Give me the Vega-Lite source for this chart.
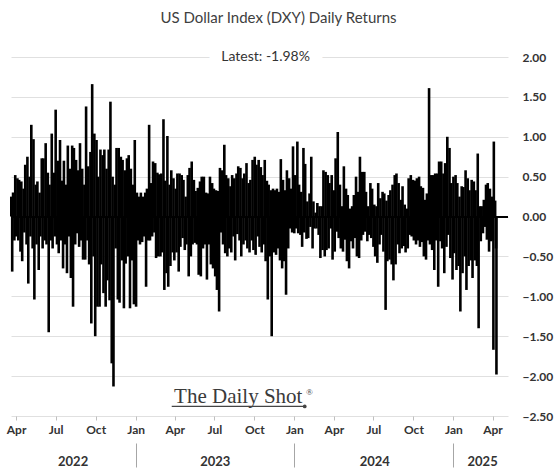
{
"$schema": "https://vega.github.io/schema/vega-lite/v6.json",
"width": 497, "height": 359,
"autosize": {"type": "none"},
"padding": {"left": 11, "top": 57, "right": 52, "bottom": 59},
"background": "white",
"title": {"text": "US Dollar Index (DXY) Daily Returns", "font": "Lato", "fontSize": 15, "fontWeight": "normal", "color": "#404040", "anchor": "middle", "frame": "group", "baseline": "alphabetic", "offset": 12, "dx": 19},
"datasets": {"ret": [
{"d":"2022-03-21","r":0.25},{"d":"2022-03-23","r":-0.69},{"d":"2022-03-25","r":0.30},{"d":"2022-03-28","r":-0.30},{"d":"2022-03-30","r":0.52},{"d":"2022-04-01","r":-0.25},
{"d":"2022-04-04","r":0.48},{"d":"2022-04-06","r":-0.30},{"d":"2022-04-08","r":0.46},{"d":"2022-04-11","r":-0.44},{"d":"2022-04-13","r":0.44},{"d":"2022-04-15","r":-0.56},
{"d":"2022-04-18","r":0.35},{"d":"2022-04-20","r":-0.20},{"d":"2022-04-22","r":0.65},{"d":"2022-04-25","r":-0.35},{"d":"2022-04-27","r":0.75},{"d":"2022-04-29","r":-0.84},
{"d":"2022-05-02","r":0.50},{"d":"2022-05-04","r":-0.25},{"d":"2022-05-06","r":1.15},{"d":"2022-05-09","r":-0.40},{"d":"2022-05-11","r":0.97},{"d":"2022-05-13","r":-1.04},
{"d":"2022-05-16","r":0.40},{"d":"2022-05-18","r":-0.35},{"d":"2022-05-20","r":0.44},{"d":"2022-05-23","r":-0.67},{"d":"2022-05-25","r":0.30},{"d":"2022-05-27","r":-0.25},
{"d":"2022-05-30","r":0.73},{"d":"2022-06-01","r":-0.40},{"d":"2022-06-03","r":0.73},{"d":"2022-06-06","r":-0.30},{"d":"2022-06-08","r":0.92},{"d":"2022-06-10","r":-0.35},
{"d":"2022-06-13","r":0.55},{"d":"2022-06-15","r":-1.45},{"d":"2022-06-17","r":0.40},{"d":"2022-06-20","r":-0.30},{"d":"2022-06-22","r":1.04},{"d":"2022-06-24","r":-0.40},
{"d":"2022-06-27","r":0.55},{"d":"2022-06-29","r":-0.25},{"d":"2022-07-01","r":1.34},{"d":"2022-07-04","r":-0.35},{"d":"2022-07-06","r":0.70},{"d":"2022-07-08","r":-0.46},
{"d":"2022-07-11","r":0.96},{"d":"2022-07-13","r":-0.30},{"d":"2022-07-15","r":0.45},{"d":"2022-07-18","r":-0.65},{"d":"2022-07-20","r":0.70},{"d":"2022-07-22","r":-0.35},
{"d":"2022-07-25","r":0.40},{"d":"2022-07-27","r":-0.71},{"d":"2022-07-29","r":0.89},{"d":"2022-08-01","r":-0.25},{"d":"2022-08-03","r":0.60},{"d":"2022-08-05","r":-0.77},
{"d":"2022-08-08","r":0.89},{"d":"2022-08-10","r":-1.13},{"d":"2022-08-12","r":0.86},{"d":"2022-08-15","r":-0.35},{"d":"2022-08-17","r":0.71},{"d":"2022-08-19","r":-0.21},
{"d":"2022-08-22","r":0.58},{"d":"2022-08-24","r":-0.38},{"d":"2022-08-26","r":0.92},{"d":"2022-08-29","r":-0.30},{"d":"2022-08-31","r":0.60},{"d":"2022-09-02","r":-0.54},
{"d":"2022-09-05","r":0.40},{"d":"2022-09-07","r":-0.54},{"d":"2022-09-09","r":1.38},{"d":"2022-09-12","r":-0.30},{"d":"2022-09-14","r":0.63},{"d":"2022-09-16","r":-0.60},
{"d":"2022-09-19","r":0.81},{"d":"2022-09-21","r":-1.34},{"d":"2022-09-23","r":1.66},{"d":"2022-09-26","r":-0.50},{"d":"2022-09-28","r":1.04},{"d":"2022-09-30","r":-1.50},
{"d":"2022-10-03","r":0.96},{"d":"2022-10-05","r":-1.13},{"d":"2022-10-07","r":0.50},{"d":"2022-10-10","r":-1.13},{"d":"2022-10-12","r":0.84},{"d":"2022-10-14","r":-0.60},
{"d":"2022-10-17","r":0.77},{"d":"2022-10-19","r":-0.96},{"d":"2022-10-21","r":0.84},{"d":"2022-10-24","r":-1.13},{"d":"2022-10-26","r":0.60},{"d":"2022-10-28","r":-0.80},
{"d":"2022-10-31","r":0.84},{"d":"2022-11-02","r":-1.05},{"d":"2022-11-04","r":1.44},{"d":"2022-11-07","r":-1.84},{"d":"2022-11-09","r":0.50},{"d":"2022-11-11","r":-2.13},
{"d":"2022-11-14","r":0.40},{"d":"2022-11-16","r":-0.40},{"d":"2022-11-18","r":0.86},{"d":"2022-11-21","r":-1.04},{"d":"2022-11-23","r":0.86},{"d":"2022-11-25","r":-1.08},
{"d":"2022-11-28","r":0.75},{"d":"2022-11-30","r":-0.55},{"d":"2022-12-02","r":0.71},{"d":"2022-12-05","r":-1.15},{"d":"2022-12-07","r":0.58},{"d":"2022-12-09","r":-0.59},
{"d":"2022-12-12","r":0.73},{"d":"2022-12-14","r":-0.50},{"d":"2022-12-16","r":0.77},{"d":"2022-12-19","r":-1.15},{"d":"2022-12-21","r":0.60},{"d":"2022-12-23","r":-0.55},
{"d":"2022-12-26","r":0.40},{"d":"2022-12-28","r":-1.10},{"d":"2022-12-30","r":0.96},{"d":"2023-01-02","r":-1.13},{"d":"2023-01-04","r":0.30},{"d":"2023-01-06","r":-0.30},
{"d":"2023-01-09","r":0.25},{"d":"2023-01-11","r":-0.35},{"d":"2023-01-13","r":0.30},{"d":"2023-01-16","r":-0.32},{"d":"2023-01-18","r":0.25},{"d":"2023-01-20","r":-0.25},
{"d":"2023-01-23","r":0.30},{"d":"2023-01-25","r":-0.88},{"d":"2023-01-27","r":0.35},{"d":"2023-01-30","r":-0.30},{"d":"2023-02-01","r":1.15},{"d":"2023-02-03","r":-0.30},
{"d":"2023-02-06","r":0.42},{"d":"2023-02-08","r":-0.25},{"d":"2023-02-10","r":0.69},{"d":"2023-02-13","r":-0.20},{"d":"2023-02-15","r":0.67},{"d":"2023-02-17","r":-0.52},
{"d":"2023-02-20","r":0.55},{"d":"2023-02-22","r":-0.50},{"d":"2023-02-24","r":0.53},{"d":"2023-02-27","r":-0.50},{"d":"2023-03-01","r":0.54},{"d":"2023-03-03","r":-0.45},
{"d":"2023-03-06","r":1.22},{"d":"2023-03-08","r":-0.92},{"d":"2023-03-10","r":0.45},{"d":"2023-03-13","r":-0.71},{"d":"2023-03-15","r":1.01},{"d":"2023-03-17","r":-0.88},
{"d":"2023-03-20","r":0.40},{"d":"2023-03-22","r":-0.62},{"d":"2023-03-24","r":0.58},{"d":"2023-03-27","r":-0.45},{"d":"2023-03-29","r":0.48},{"d":"2023-03-31","r":-0.55},
{"d":"2023-04-03","r":0.35},{"d":"2023-04-05","r":-0.45},{"d":"2023-04-07","r":0.54},{"d":"2023-04-10","r":-0.69},{"d":"2023-04-12","r":0.54},{"d":"2023-04-14","r":-0.38},
{"d":"2023-04-17","r":0.52},{"d":"2023-04-19","r":-0.27},{"d":"2023-04-21","r":0.46},{"d":"2023-04-24","r":-0.42},{"d":"2023-04-26","r":0.25},{"d":"2023-04-28","r":-0.35},
{"d":"2023-05-01","r":0.52},{"d":"2023-05-03","r":-0.75},{"d":"2023-05-05","r":0.61},{"d":"2023-05-08","r":-0.50},{"d":"2023-05-10","r":0.69},{"d":"2023-05-12","r":-0.35},
{"d":"2023-05-15","r":0.46},{"d":"2023-05-17","r":-0.33},{"d":"2023-05-19","r":0.32},{"d":"2023-05-22","r":-0.35},{"d":"2023-05-24","r":0.36},{"d":"2023-05-26","r":-0.73},
{"d":"2023-05-29","r":0.44},{"d":"2023-05-31","r":-0.75},{"d":"2023-06-02","r":0.50},{"d":"2023-06-05","r":-0.40},{"d":"2023-06-07","r":0.50},{"d":"2023-06-09","r":-0.35},
{"d":"2023-06-12","r":0.30},{"d":"2023-06-14","r":-0.79},{"d":"2023-06-16","r":0.29},{"d":"2023-06-19","r":-0.35},{"d":"2023-06-21","r":0.50},{"d":"2023-06-23","r":-0.60},
{"d":"2023-06-26","r":0.42},{"d":"2023-06-28","r":-0.65},{"d":"2023-06-30","r":0.35},{"d":"2023-07-03","r":-0.75},{"d":"2023-07-05","r":0.33},{"d":"2023-07-07","r":-0.92},
{"d":"2023-07-10","r":0.32},{"d":"2023-07-12","r":-1.19},{"d":"2023-07-14","r":0.61},{"d":"2023-07-17","r":-0.20},{"d":"2023-07-19","r":0.58},{"d":"2023-07-21","r":-0.35},
{"d":"2023-07-24","r":0.90},{"d":"2023-07-26","r":-0.46},{"d":"2023-07-28","r":0.52},{"d":"2023-07-31","r":-0.50},{"d":"2023-08-02","r":0.48},{"d":"2023-08-04","r":-0.40},
{"d":"2023-08-07","r":0.38},{"d":"2023-08-09","r":-0.45},{"d":"2023-08-11","r":0.52},{"d":"2023-08-14","r":-0.25},{"d":"2023-08-16","r":0.48},{"d":"2023-08-18","r":-0.55},
{"d":"2023-08-21","r":0.54},{"d":"2023-08-23","r":-0.22},{"d":"2023-08-25","r":0.63},{"d":"2023-08-28","r":-0.30},{"d":"2023-08-30","r":0.61},{"d":"2023-09-01","r":-0.50},
{"d":"2023-09-04","r":0.48},{"d":"2023-09-06","r":-0.35},{"d":"2023-09-08","r":0.54},{"d":"2023-09-11","r":-0.30},{"d":"2023-09-13","r":0.67},{"d":"2023-09-15","r":-0.40},
{"d":"2023-09-18","r":0.42},{"d":"2023-09-20","r":-0.45},{"d":"2023-09-22","r":0.46},{"d":"2023-09-25","r":-0.30},{"d":"2023-09-27","r":0.71},{"d":"2023-09-29","r":-0.42},
{"d":"2023-10-02","r":0.75},{"d":"2023-10-04","r":-0.48},{"d":"2023-10-06","r":0.65},{"d":"2023-10-09","r":-0.25},{"d":"2023-10-11","r":0.71},{"d":"2023-10-13","r":-0.38},
{"d":"2023-10-16","r":0.62},{"d":"2023-10-18","r":-0.45},{"d":"2023-10-20","r":0.52},{"d":"2023-10-23","r":-0.35},{"d":"2023-10-25","r":0.71},{"d":"2023-10-27","r":-0.56},
{"d":"2023-10-30","r":0.45},{"d":"2023-11-01","r":-1.04},{"d":"2023-11-03","r":0.40},{"d":"2023-11-06","r":-0.50},{"d":"2023-11-08","r":0.33},{"d":"2023-11-10","r":-1.50},
{"d":"2023-11-13","r":0.35},{"d":"2023-11-15","r":-0.45},{"d":"2023-11-17","r":0.33},{"d":"2023-11-20","r":-0.48},{"d":"2023-11-22","r":0.35},{"d":"2023-11-24","r":-0.40},
{"d":"2023-11-27","r":0.31},{"d":"2023-11-29","r":-0.55},{"d":"2023-12-01","r":0.72},{"d":"2023-12-04","r":-0.65},{"d":"2023-12-06","r":0.46},{"d":"2023-12-08","r":-0.56},
{"d":"2023-12-11","r":0.33},{"d":"2023-12-13","r":-0.98},{"d":"2023-12-15","r":0.58},{"d":"2023-12-18","r":-0.40},{"d":"2023-12-20","r":0.48},{"d":"2023-12-22","r":-0.15},
{"d":"2023-12-25","r":0.35},{"d":"2023-12-27","r":-0.20},{"d":"2023-12-29","r":0.88},{"d":"2024-01-01","r":-0.21},{"d":"2024-01-03","r":0.52},{"d":"2024-01-05","r":-0.15},
{"d":"2024-01-08","r":0.94},{"d":"2024-01-10","r":-0.21},{"d":"2024-01-12","r":0.40},{"d":"2024-01-15","r":-0.23},{"d":"2024-01-17","r":0.31},{"d":"2024-01-19","r":-0.38},
{"d":"2024-01-22","r":0.86},{"d":"2024-01-24","r":-0.20},{"d":"2024-01-26","r":0.66},{"d":"2024-01-29","r":-0.28},{"d":"2024-01-31","r":0.19},{"d":"2024-02-02","r":-0.27},
{"d":"2024-02-05","r":0.29},{"d":"2024-02-07","r":-0.13},{"d":"2024-02-09","r":0.75},{"d":"2024-02-12","r":-0.40},{"d":"2024-02-14","r":0.19},{"d":"2024-02-16","r":-0.15},
{"d":"2024-02-19","r":0.05},{"d":"2024-02-21","r":-0.15},{"d":"2024-02-23","r":0.17},{"d":"2024-02-26","r":-0.23},{"d":"2024-02-28","r":0.13},{"d":"2024-03-01","r":-0.52},
{"d":"2024-03-04","r":0.13},{"d":"2024-03-06","r":-0.42},{"d":"2024-03-08","r":0.58},{"d":"2024-03-11","r":-0.50},{"d":"2024-03-13","r":0.56},{"d":"2024-03-15","r":-0.42},
{"d":"2024-03-18","r":0.52},{"d":"2024-03-20","r":-0.40},{"d":"2024-03-22","r":0.42},{"d":"2024-03-25","r":-0.15},{"d":"2024-03-27","r":0.52},{"d":"2024-03-29","r":-0.54},
{"d":"2024-04-01","r":0.33},{"d":"2024-04-03","r":-0.44},{"d":"2024-04-05","r":0.73},{"d":"2024-04-08","r":-0.19},{"d":"2024-04-10","r":1.06},{"d":"2024-04-12","r":-0.27},
{"d":"2024-04-15","r":0.40},{"d":"2024-04-17","r":-0.40},{"d":"2024-04-19","r":0.13},{"d":"2024-04-22","r":-0.44},{"d":"2024-04-24","r":0.63},{"d":"2024-04-26","r":-0.29},
{"d":"2024-04-29","r":0.35},{"d":"2024-05-01","r":-0.56},{"d":"2024-05-03","r":0.27},{"d":"2024-05-06","r":-0.65},{"d":"2024-05-08","r":0.10},{"d":"2024-05-10","r":-0.31},
{"d":"2024-05-13","r":0.13},{"d":"2024-05-15","r":-0.40},{"d":"2024-05-17","r":0.27},{"d":"2024-05-20","r":-0.27},{"d":"2024-05-22","r":0.50},{"d":"2024-05-24","r":-0.50},
{"d":"2024-05-27","r":0.31},{"d":"2024-05-29","r":-0.52},{"d":"2024-05-31","r":0.75},{"d":"2024-06-03","r":-0.30},{"d":"2024-06-05","r":0.56},{"d":"2024-06-07","r":-0.23},
{"d":"2024-06-10","r":0.56},{"d":"2024-06-12","r":-0.19},{"d":"2024-06-14","r":0.31},{"d":"2024-06-17","r":-0.31},{"d":"2024-06-19","r":0.13},{"d":"2024-06-21","r":-0.23},
{"d":"2024-06-24","r":0.42},{"d":"2024-06-26","r":-0.27},{"d":"2024-06-28","r":0.35},{"d":"2024-07-01","r":-0.38},{"d":"2024-07-03","r":0.15},{"d":"2024-07-05","r":-0.50},
{"d":"2024-07-08","r":0.13},{"d":"2024-07-10","r":-0.58},{"d":"2024-07-12","r":0.42},{"d":"2024-07-15","r":-0.35},{"d":"2024-07-17","r":0.23},{"d":"2024-07-19","r":-0.23},
{"d":"2024-07-22","r":0.31},{"d":"2024-07-24","r":-0.44},{"d":"2024-07-26","r":0.29},{"d":"2024-07-29","r":-1.17},{"d":"2024-07-31","r":0.20},{"d":"2024-08-02","r":-0.56},
{"d":"2024-08-05","r":0.27},{"d":"2024-08-07","r":-0.54},{"d":"2024-08-09","r":0.33},{"d":"2024-08-12","r":-0.60},{"d":"2024-08-14","r":0.40},{"d":"2024-08-16","r":-0.80},
{"d":"2024-08-19","r":0.52},{"d":"2024-08-21","r":-0.60},{"d":"2024-08-23","r":0.54},{"d":"2024-08-26","r":-0.35},{"d":"2024-08-28","r":0.42},{"d":"2024-08-30","r":-0.46},
{"d":"2024-09-02","r":0.21},{"d":"2024-09-04","r":-0.40},{"d":"2024-09-06","r":0.38},{"d":"2024-09-09","r":-0.37},{"d":"2024-09-11","r":0.15},{"d":"2024-09-13","r":-0.45},
{"d":"2024-09-16","r":0.10},{"d":"2024-09-18","r":-0.40},{"d":"2024-09-20","r":0.48},{"d":"2024-09-23","r":-0.23},{"d":"2024-09-25","r":0.52},{"d":"2024-09-27","r":-0.25},
{"d":"2024-09-30","r":0.46},{"d":"2024-10-02","r":-0.30},{"d":"2024-10-04","r":0.45},{"d":"2024-10-07","r":-0.35},{"d":"2024-10-09","r":0.48},{"d":"2024-10-11","r":-0.30},
{"d":"2024-10-14","r":0.50},{"d":"2024-10-16","r":-0.38},{"d":"2024-10-18","r":0.38},{"d":"2024-10-21","r":-0.32},{"d":"2024-10-23","r":0.36},{"d":"2024-10-25","r":-0.50},
{"d":"2024-10-28","r":0.21},{"d":"2024-10-30","r":-0.54},{"d":"2024-11-01","r":0.29},{"d":"2024-11-04","r":-0.30},{"d":"2024-11-06","r":1.61},{"d":"2024-11-08","r":-0.35},
{"d":"2024-11-11","r":0.52},{"d":"2024-11-13","r":-0.42},{"d":"2024-11-15","r":0.52},{"d":"2024-11-18","r":-0.67},{"d":"2024-11-20","r":0.54},{"d":"2024-11-22","r":-0.30},
{"d":"2024-11-25","r":0.54},{"d":"2024-11-27","r":-0.88},{"d":"2024-11-29","r":0.69},{"d":"2024-12-02","r":-0.31},{"d":"2024-12-04","r":0.69},{"d":"2024-12-06","r":-0.40},
{"d":"2024-12-09","r":0.54},{"d":"2024-12-11","r":-0.71},{"d":"2024-12-13","r":0.67},{"d":"2024-12-16","r":-0.38},{"d":"2024-12-18","r":1.00},{"d":"2024-12-20","r":-0.23},
{"d":"2024-12-23","r":0.86},{"d":"2024-12-25","r":-0.52},{"d":"2024-12-27","r":0.42},{"d":"2024-12-30","r":-0.79},{"d":"2025-01-01","r":0.50},{"d":"2025-01-03","r":-0.46},
{"d":"2025-01-06","r":0.52},{"d":"2025-01-08","r":-0.67},{"d":"2025-01-10","r":0.42},{"d":"2025-01-13","r":-0.62},{"d":"2025-01-15","r":0.25},{"d":"2025-01-17","r":-1.19},
{"d":"2025-01-20","r":0.38},{"d":"2025-01-22","r":-0.71},{"d":"2025-01-24","r":0.37},{"d":"2025-01-27","r":-0.50},{"d":"2025-01-29","r":0.58},{"d":"2025-01-31","r":-0.92},
{"d":"2025-02-03","r":0.48},{"d":"2025-02-05","r":-0.62},{"d":"2025-02-07","r":0.33},{"d":"2025-02-10","r":-0.55},{"d":"2025-02-12","r":0.46},{"d":"2025-02-14","r":-0.77},
{"d":"2025-02-17","r":0.44},{"d":"2025-02-19","r":-0.55},{"d":"2025-02-21","r":0.33},{"d":"2025-02-24","r":-0.62},{"d":"2025-02-26","r":0.79},{"d":"2025-02-28","r":-1.40},
{"d":"2025-03-03","r":0.13},{"d":"2025-03-05","r":-0.31},{"d":"2025-03-07","r":0.13},{"d":"2025-03-10","r":-0.21},{"d":"2025-03-12","r":0.21},{"d":"2025-03-14","r":-0.13},
{"d":"2025-03-17","r":0.40},{"d":"2025-03-19","r":-0.29},{"d":"2025-03-21","r":0.42},{"d":"2025-03-24","r":-0.44},{"d":"2025-03-26","r":0.35},{"d":"2025-03-28","r":-0.31},
{"d":"2025-03-31","r":0.25},{"d":"2025-04-02","r":-0.30},{"d":"2025-04-03","r":-1.67},{"d":"2025-04-04","r":0.94},{"d":"2025-04-07","r":0.20},{"d":"2025-04-09","r":-0.40},{"d":"2025-04-10","r":-1.98}
]},
"data": {"name": "ret"},
"layer": [
{"mark": {"type": "bar", "color": "#000000", "width": 2.6},
 "encoding": {
  "x": {"field": "d", "type": "temporal",
        "scale": {"domain": [{"year": 2022, "month": 3, "date": 20, "hours": 6, "utc": true}, {"year": 2025, "month": 5, "date": 6, "hours": 14, "utc": true}], "padding": 0},
        "axis": {"orient": "bottom", "title": null, "format": "%b", "tickCount": {"interval": "month", "step": 3}, "grid": false, "domain": false, "ticks": true, "tickColor": "#bfbfbf", "tickSize": 4, "labelFlush": false, "labelOverlap": false, "labelFont": "Lato", "labelFontWeight": "bold", "labelFontSize": 12, "labelColor": "#333333", "labelPadding": 4}},
  "y": {"field": "r", "type": "quantitative",
        "scale": {"domain": [-2.5, 2], "nice": false},
        "axis": {"orient": "right", "title": null, "values": [-2.5, -2, -1.5, -1, -0.5, 0, 0.5, 1, 1.5, 2], "format": ".2f", "grid": true, "gridColor": "#e0e0e0", "gridWidth": 1, "ticks": false, "domain": false, "labelOverlap": false, "labelFlush": false, "labelFont": "Lato", "labelFontWeight": "bold", "labelFontSize": 12, "labelColor": "#333333", "labelPadding": 14}}
 }},
{"mark": {"type": "rule", "color": "#000000", "strokeWidth": 1},
 "encoding": {"y": {"datum": 0, "axis": null, "scale": {"domain": [-2.5, 2], "nice": false}}}},
{"mark": {"type": "point", "opacity": 0},
 "encoding": {
  "x": {"field": "d", "type": "temporal",
        "scale": {"domain": [{"year": 2022, "month": 3, "date": 20, "hours": 6, "utc": true}, {"year": 2025, "month": 5, "date": 6, "hours": 14, "utc": true}], "padding": 0},
        "axis": {"orient": "bottom", "title": null, "offset": 27, "values": [{"year": 2022, "month": 8, "date": 9, "utc": true}, {"year": 2023, "month": 7, "date": 2, "utc": true}, {"year": 2024, "month": 7, "date": 3, "utc": true}, {"year": 2025, "month": 3, "date": 8, "utc": true}], "format": "%Y", "grid": false, "domain": false, "ticks": false, "labelFlush": false, "labelOverlap": false, "labelFont": "Lato", "labelFontWeight": "bold", "labelFontSize": 13, "labelColor": "#333333", "labelPadding": 12}}
 }},
{"mark": {"type": "point", "opacity": 0},
 "encoding": {
  "x": {"field": "d", "type": "temporal",
        "scale": {"domain": [{"year": 2022, "month": 3, "date": 20, "hours": 6, "utc": true}, {"year": 2025, "month": 5, "date": 6, "hours": 14, "utc": true}], "padding": 0},
        "axis": {"orient": "bottom", "title": null, "offset": 27, "values": [{"year": 2023, "month": 1, "date": 1, "utc": true}, {"year": 2024, "month": 1, "date": 1, "utc": true}, {"year": 2025, "month": 1, "date": 1, "utc": true}], "labels": false, "grid": false, "domain": false, "ticks": true, "tickSize": 24, "tickColor": "#a6a6a6", "tickWidth": 1}}
 }},
{"data": {"values": [{"label": "Latest:  -1.98%"}]},
 "layer": [
  {"mark": {"type": "text", "font": "Lato", "fontSize": 14, "fill": "white", "stroke": "white", "strokeWidth": 26, "strokeJoin": "round", "align": "center", "baseline": "middle"},
   "encoding": {
    "x": {"datum": {"year": 2023, "month": 10, "date": 27, "utc": true}, "type": "temporal", "axis": null, "scale": {"domain": [{"year": 2022, "month": 3, "date": 20, "hours": 6, "utc": true}, {"year": 2025, "month": 5, "date": 6, "hours": 14, "utc": true}], "padding": 0}},
    "y": {"datum": 2, "axis": null, "scale": {"domain": [-2.5, 2], "nice": false}},
    "text": {"field": "label"}}},
  {"mark": {"type": "text", "font": "Lato", "fontSize": 14, "color": "#333333", "align": "center", "baseline": "middle"},
   "encoding": {
    "x": {"datum": {"year": 2023, "month": 10, "date": 27, "utc": true}, "type": "temporal", "axis": null, "scale": {"domain": [{"year": 2022, "month": 3, "date": 20, "hours": 6, "utc": true}, {"year": 2025, "month": 5, "date": 6, "hours": 14, "utc": true}], "padding": 0}},
    "y": {"datum": 2, "axis": null, "scale": {"domain": [-2.5, 2], "nice": false}},
    "text": {"field": "label"}}}
 ],
 "resolve": {"axis": {"x": "independent", "y": "independent"}}},
{"data": {"values": [{"label": "The Daily Shot", "mark": "®"}]},
 "layer": [
  {"mark": {"type": "text", "font": "Liberation Serif", "fontSize": 21, "color": "#3a3a3a", "align": "center", "baseline": "alphabetic"},
   "encoding": {
    "x": {"datum": {"year": 2023, "month": 8, "date": 25, "utc": true}, "type": "temporal", "axis": null, "scale": {"domain": [{"year": 2022, "month": 3, "date": 20, "hours": 6, "utc": true}, {"year": 2025, "month": 5, "date": 6, "hours": 14, "utc": true}], "padding": 0}},
    "y": {"datum": -2.335, "axis": null, "scale": {"domain": [-2.5, 2], "nice": false}},
    "text": {"field": "label"}}},
  {"mark": {"type": "text", "font": "Liberation Serif", "fontSize": 9, "color": "#3a3a3a", "align": "left", "baseline": "alphabetic"},
   "encoding": {
    "x": {"datum": {"year": 2024, "month": 1, "date": 28, "utc": true}, "type": "temporal", "axis": null, "scale": {"domain": [{"year": 2022, "month": 3, "date": 20, "hours": 6, "utc": true}, {"year": 2025, "month": 5, "date": 6, "hours": 14, "utc": true}], "padding": 0}},
    "y": {"datum": -2.24, "axis": null, "scale": {"domain": [-2.5, 2], "nice": false}},
    "text": {"field": "mark"}}},
  {"mark": {"type": "rule", "color": "#444444", "strokeWidth": 1.2},
   "encoding": {
    "x": {"datum": {"year": 2023, "month": 3, "date": 25, "utc": true}, "type": "temporal", "axis": null, "scale": {"domain": [{"year": 2022, "month": 3, "date": 20, "hours": 6, "utc": true}, {"year": 2025, "month": 5, "date": 6, "hours": 14, "utc": true}], "padding": 0}},
    "x2": {"datum": {"year": 2024, "month": 1, "date": 25, "utc": true}},
    "y": {"datum": -2.38, "axis": null, "scale": {"domain": [-2.5, 2], "nice": false}}}},
  {"mark": {"type": "point", "filled": true, "color": "#444444", "size": 14, "opacity": 1},
   "encoding": {
    "x": {"datum": {"year": 2024, "month": 1, "date": 25, "utc": true}, "type": "temporal", "axis": null, "scale": {"domain": [{"year": 2022, "month": 3, "date": 20, "hours": 6, "utc": true}, {"year": 2025, "month": 5, "date": 6, "hours": 14, "utc": true}], "padding": 0}},
    "y": {"datum": -2.38, "axis": null, "scale": {"domain": [-2.5, 2], "nice": false}}}}
 ],
 "resolve": {"axis": {"x": "independent", "y": "independent"}}}
],
"resolve": {"axis": {"x": "independent", "y": "independent"}},
"config": {"view": {"stroke": null}, "axisY": {"labelOverlap": false}}
}
